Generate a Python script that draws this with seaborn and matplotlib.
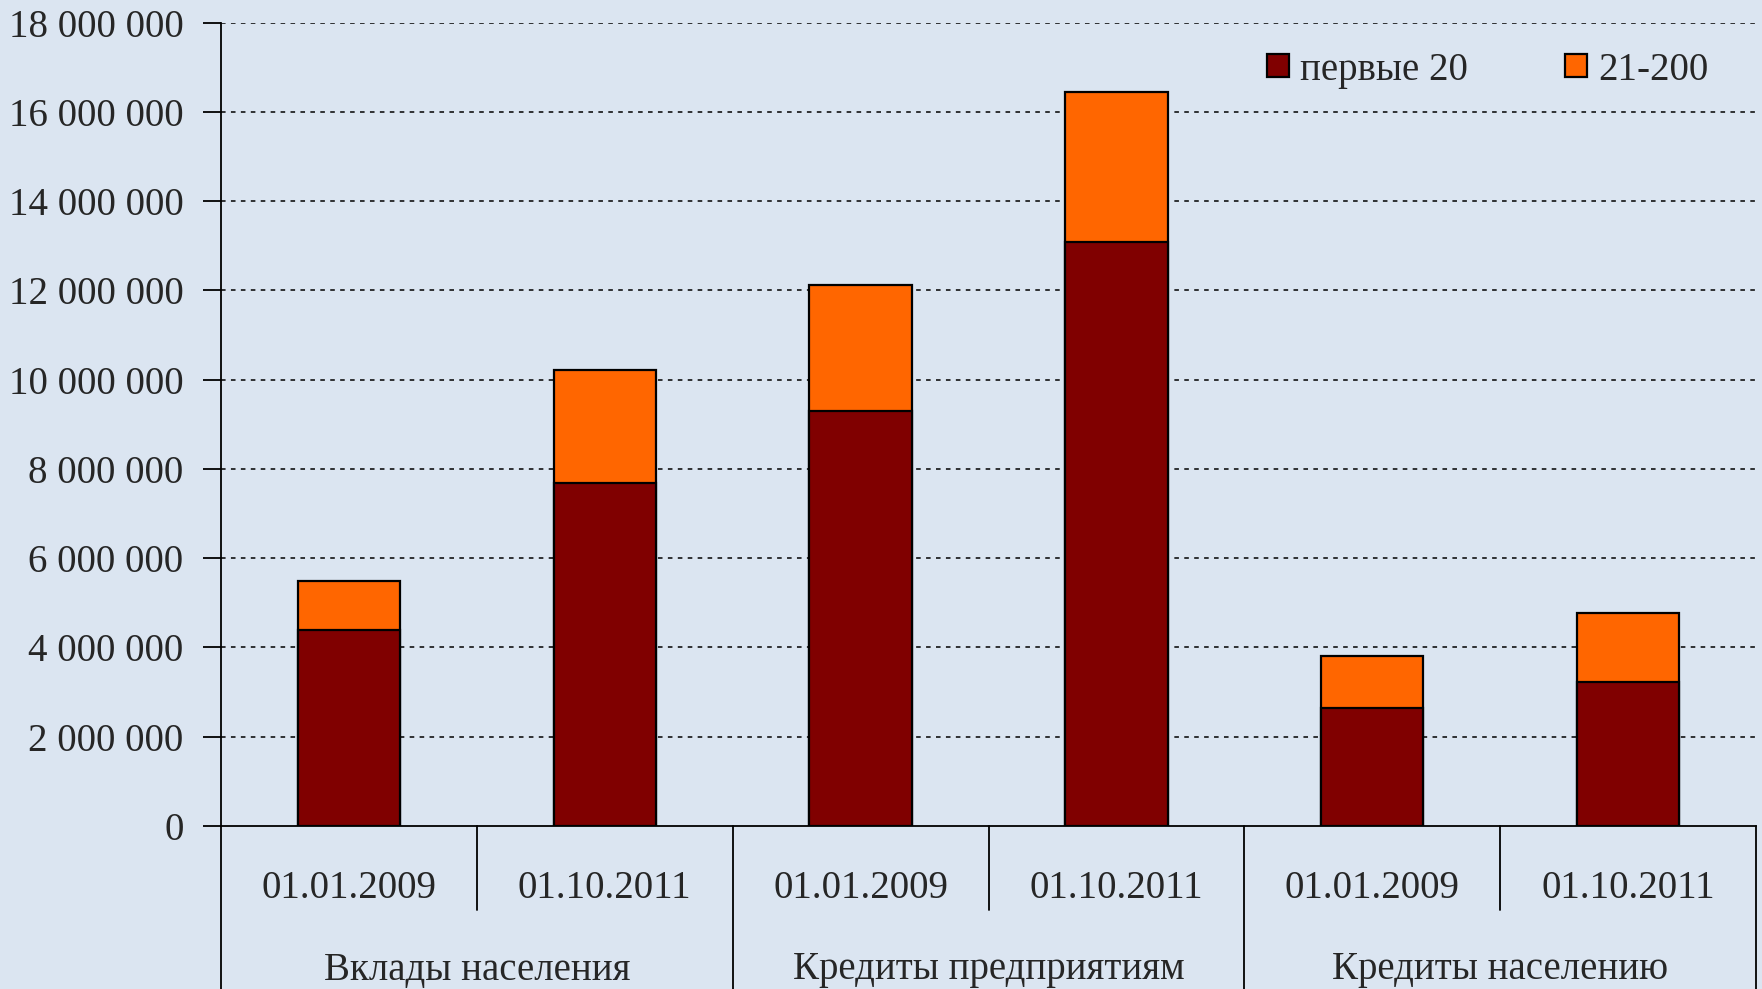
import os
import matplotlib
matplotlib.use("Agg")
import matplotlib.pyplot as plt
import matplotlib.transforms as mtransforms
from matplotlib import font_manager as fm
from matplotlib.patches import Patch
import seaborn as sns
import pandas as pd

groups = ["Вклады населения", "Кредиты предприятиям", "Кредиты населению"]
dates = ["01.01.2009", "01.10.2011"]
top20 = [4380000, 7680000, 9290000, 13090000, 2640000, 3220000]
rest = [1110000, 2540000, 2840000, 3350000, 1160000, 1560000]
series_names = ["первые 20", "21-200"]
yticks = list(range(0, 18000001, 2000000))

BG = "#DBE5F1"
DARK = "#800000"
ORANGE = "#FF6600"
FS = 28

sns.set_theme(style="white")
plt.rcParams["font.family"] = ["Liberation Serif", "DejaVu Serif"]
SERIF_PATH = "/usr/share/fonts/truetype/liberation/LiberationSerif-Regular.ttf"
if os.path.exists(SERIF_PATH):
    FP = fm.FontProperties(fname=SERIF_PATH, size=FS)
else:
    FP = fm.FontProperties(family=["Liberation Serif", "DejaVu Serif"], size=FS)

keys, glab, dlab = [], [], []
for g in groups:
    for d in dates:
        keys.append(f"{g}|{d}")
        glab.append(g)
        dlab.append(d)
df = pd.DataFrame({"key": keys, "group": glab, "date": dlab,
                   "top20": top20, "rest": rest})
df["total"] = df["top20"] + df["rest"]

fig = plt.figure(figsize=(17.62, 9.89), dpi=100, facecolor=BG)
ax = fig.add_axes([221 / 1762, (989 - 826) / 989, (1756 - 221) / 1762, (826 - 22.5) / 989])
ax.set_facecolor(BG)

sns.barplot(data=df, x="key", y="total", order=keys, color=ORANGE, width=0.4,
            edgecolor="black", linewidth=1.6, saturation=1, ax=ax, zorder=3)
sns.barplot(data=df, x="key", y="top20", order=keys, color=DARK, width=0.4,
            edgecolor="black", linewidth=1.6, saturation=1, ax=ax, zorder=4)

ax.set_xlim(-0.5, len(keys) - 0.5)
ax.set_ylim(0, 18000000)
ax.set_yticks(yticks)
ax.set_yticklabels([f"{v:,.0f}".replace(",", " ") for v in yticks], fontproperties=FP)
ax.set_xlabel("")
ax.set_ylabel("")
ax.set_xticks(range(len(keys)))
ax.set_xticklabels([])
ax.tick_params(axis="x", length=0)
ax.tick_params(axis="y", length=13, width=1.3, pad=14, color="black", direction="out", left=True)

for v in yticks[1:]:
    ax.axhline(v, color="black", lw=1.1, ls=(0, (3, 3.5)), zorder=1)

for s in ["top", "right"]:
    ax.spines[s].set_visible(False)
for s in ["left", "bottom"]:
    ax.spines[s].set_color("black")
    ax.spines[s].set_linewidth(1.3)

trans = mtransforms.blended_transform_factory(ax.transData, ax.transAxes)
h_axes = 826 - 22.5
short_y = -(910 - 826) / h_axes
bottom_y = -(989 - 826) / h_axes
for i in range(1, len(keys) + 1):
    xb = i - 0.5
    y1 = bottom_y if i % 2 == 0 else short_y
    ax.plot([xb, xb], [0, y1], color="black", lw=1.3, transform=trans, clip_on=False)
ax.plot([-0.5, -0.5], [0, bottom_y], color="black", lw=1.3, transform=trans, clip_on=False)

date_y = -(888 - 826) / h_axes
group_y = -(970 - 826) / h_axes
for i, d in enumerate(dlab):
    ax.text(i, date_y, d, transform=trans, ha="center", va="center", fontproperties=FP)
for gi, g in enumerate(groups):
    ax.text(gi * 2 + 0.5, group_y, g, transform=trans, ha="center", va="center", fontproperties=FP)

handles = [Patch(facecolor=DARK, edgecolor="black", lw=1.6),
           Patch(facecolor=ORANGE, edgecolor="black", lw=1.6)]
ax.legend(handles, series_names, loc="center",
          bbox_to_anchor=((1488 - 221) / (1756 - 221), 1 - (70 - 22.5) / h_axes),
          bbox_transform=ax.transAxes, ncol=2, frameon=False, prop=FP,
          handlelength=0.55, handleheight=0.55, handletextpad=0.3, columnspacing=2.5)

fig.savefig("out.png", dpi=100, facecolor=BG)
